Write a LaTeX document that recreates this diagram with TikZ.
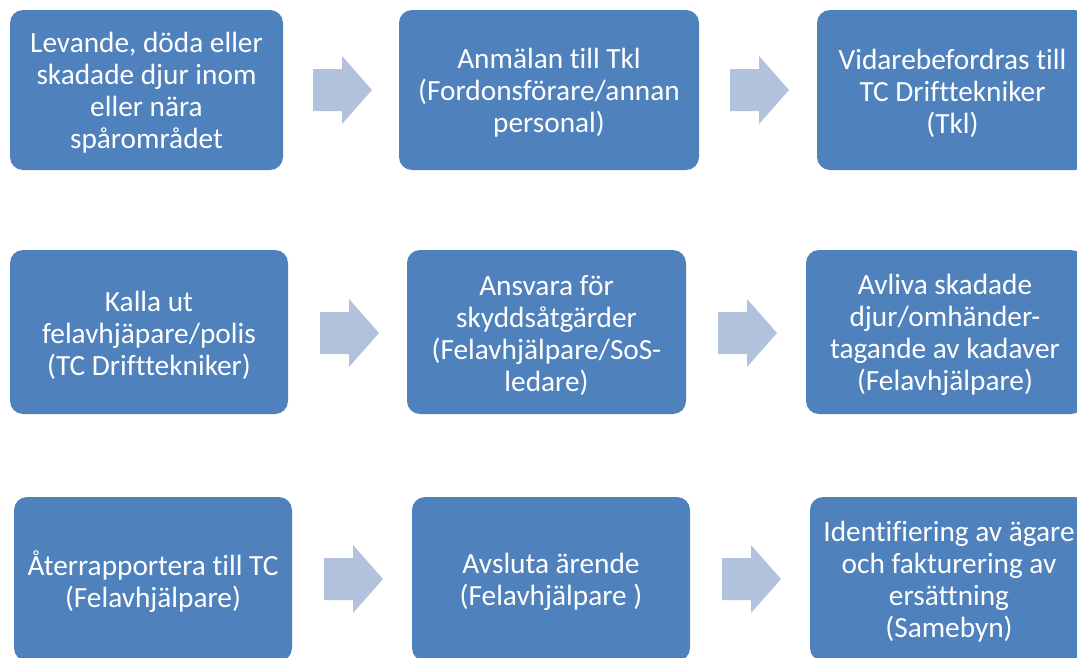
\documentclass[tikz,border=0pt]{standalone}
\usepackage{fontspec}
\setmainfont{Carlito}[Ligatures=NoCommon]
\definecolor{boxblue}{HTML}{4F81BD}
\definecolor{arrowblue}{HTML}{B3C2DC}
\newcommand{\blkarrow}[3]{% name, left x, centre y
  \fill[arrowblue] (#2,#3-21) -- (#2+29,#3-21) -- (#2+29,#3-34) -- (#2+59,#3) -- (#2+29,#3+34) -- (#2+29,#3+21) -- (#2,#3+21) -- cycle;
  \coordinate (#1) at (#2+30,#3);
}
\begin{document}
\begin{tikzpicture}[x=1pt,y=-1pt,
  stepbox/.style={fill=boxblue, draw=none, rounded corners=13pt, inner sep=0pt,
    minimum height=164pt, minimum width=278pt},
  steptext/.style={text=white, align=center, font=\fontsize{29.3}{32}\selectfont, inner sep=0pt}]
\useasboundingbox (0,0) rectangle (1077,657);
\clip (0,0) rectangle (1077,657);
\fill[white] (0,0) rectangle (1077,657);
% row 1
\node[stepbox, minimum width=273pt, minimum height=160pt] (a1) at (146.5,90) {};
\node[stepbox, minimum width=300pt, minimum height=160pt] (a2) at (549,90) {};
\node[stepbox, minimum width=271pt, minimum height=160pt] (a3) at (952.5,90) {};
% row 2
\node[stepbox] (b1) at (149,332) {};
\node[stepbox, minimum width=279pt] (b2) at (546.5,332) {};
\node[stepbox] (b3) at (945,332) {};
% row 3
\node[stepbox] (c1) at (153,579) {};
\node[stepbox] (c2) at (551,579) {};
\node[stepbox] (c3) at (949,579) {};
% texts
\node[steptext] (a1t) at ([yshift=-3pt]a1.center) {Levande, döda eller\\skadade djur inom\\eller nära\\spårområdet};
\node[steptext] (a2t) at ([yshift=-3pt]a2.center) {Anmälan till Tkl\\(Fordonsförare/annan\\personal)};
\node[steptext] (a3t) at ([yshift=-3pt]a3.center) {Vidarebefordras till\\TC Drifttekniker\\(Tkl)};
\node[steptext] (b1t) at ([yshift=-3pt]b1.center) {Kalla ut\\felavhjäpare/polis\\(TC Drifttekniker)};
\node[steptext] (b2t) at ([yshift=-3pt]b2.center) {Ansvara för\\skyddsåtgärder\\(Felavhjälpare/SoS-\\ledare)};
\node[steptext] (b3t) at ([yshift=-3pt]b3.center) {Avliva skadade\\djur/omhänder-\\tagande av kadaver\\(Felavhjälpare)};
\node[steptext] (c1t) at ([yshift=-3pt]c1.center) {Återrapportera till TC\\(Felavhjälpare)};
\node[steptext] (c2t) at ([yshift=-3pt]c2.center) {Avsluta ärende\\(Felavhjälpare )};
\node[steptext] (c3t) at ([yshift=-3pt]c3.center) {Identifiering av ägare\\och fakturering av\\ersättning\\(Samebyn)};
% arrows
\blkarrow{ar1}{313}{90}
\blkarrow{ar2}{730}{90}
\blkarrow{ar3}{320}{333}
\blkarrow{ar4}{718}{333}
\blkarrow{ar5}{324}{579}
\blkarrow{ar6}{722}{579}
\end{tikzpicture}
\end{document}
